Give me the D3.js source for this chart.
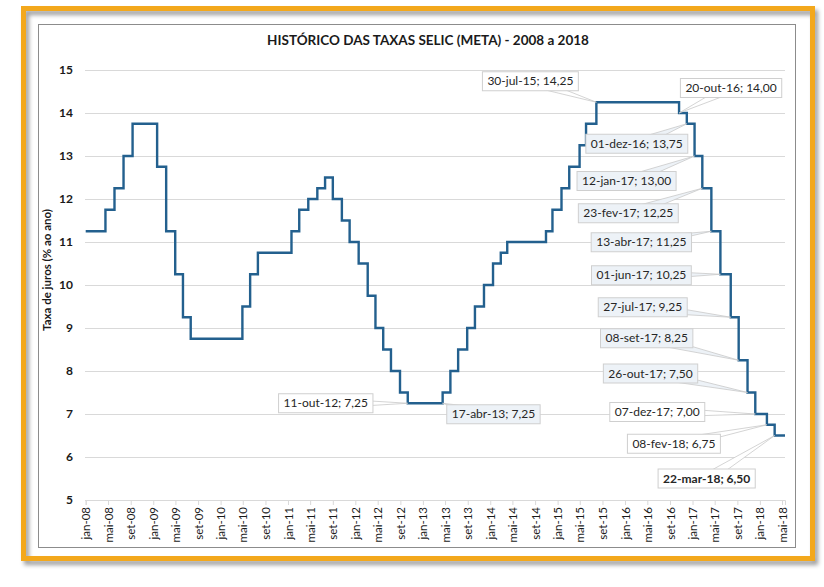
<!DOCTYPE html>
<html><head><meta charset="utf-8">
<script src="https://cdn.jsdelivr.net/npm/d3@7"></script>
<style>
body{margin:0;background:#fff}
svg{display:block}
text{font-family:Lato,'Liberation Sans',sans-serif}
</style>
</head><body>
<svg id="c" width="824" height="587"></svg>
<script>
// ---------- DATA ----------
const changeDates = [
  "2008-01-01","2008-04-17","2008-06-05","2008-07-24","2008-09-11",
  "2009-01-22","2009-03-12","2009-04-30","2009-06-11","2009-07-23",
  "2010-04-29","2010-06-10","2010-07-22",
  "2011-01-20","2011-03-03","2011-04-21","2011-06-09","2011-07-21","2011-09-01","2011-10-20","2011-12-01",
  "2012-01-19","2012-03-08","2012-04-19","2012-05-31","2012-07-12","2012-08-30","2012-10-11",
  "2013-04-18","2013-05-30","2013-07-11","2013-08-29","2013-10-10","2013-11-28",
  "2014-01-16","2014-02-27","2014-04-03","2014-10-30","2014-12-04",
  "2015-01-22","2015-03-05","2015-04-30","2015-06-04","2015-07-30",
  "2016-10-20","2016-12-01",
  "2017-01-12","2017-02-23","2017-04-13","2017-06-01","2017-07-27","2017-09-08","2017-10-26","2017-12-07",
  "2018-02-08","2018-03-22"
];
const selicValues = [
  11.25,11.75,12.25,13.00,13.75,
  12.75,11.25,10.25,9.25,8.75,
  9.50,10.25,10.75,
  11.25,11.75,12.00,12.25,12.50,12.00,11.50,11.00,
  10.50,9.75,9.00,8.50,8.00,7.50,7.25,
  7.50,8.00,8.50,9.00,9.50,10.00,
  10.50,10.75,11.00,11.25,11.75,
  12.25,12.75,13.25,13.75,14.25,
  14.00,13.75,
  13.00,12.25,11.25,10.25,9.25,8.25,7.50,7.00,
  6.75,6.50
];
const seriesEnd = "2018-05-17";
const yTicks = [5,6,7,8,9,10,11,12,13,14,15];
const monthNames = ["jan","fev","mar","abr","mai","jun","jul","ago","set","out","nov","dez"];

const labelTexts = [
  "30-jul-15; 14,25","20-out-16; 14,00","01-dez-16; 13,75","12-jan-17; 13,00",
  "23-fev-17; 12,25","13-abr-17; 11,25","01-jun-17; 10,25","27-jul-17; 9,25",
  "08-set-17; 8,25","26-out-17; 7,50","07-dez-17; 7,00","08-fev-18; 6,75",
  "22-mar-18; 6,50","11-out-12; 7,25","17-abr-13; 7,25"
];
const labelDates = [
  "2015-07-30","2016-10-20","2016-12-01","2017-01-12","2017-02-23","2017-04-13",
  "2017-06-01","2017-07-27","2017-09-08","2017-10-26","2017-12-07","2018-02-08",
  "2018-03-22","2012-10-11","2013-04-17"
];
const labelValues = [14.25,14.00,13.75,13.00,12.25,11.25,10.25,9.25,8.25,7.50,7.00,6.75,6.50,7.25,7.25];

const titleText = "HISTÓRICO DAS TAXAS SELIC (META) - 2008 a 2018";
const yTitle = "Taxa de juros (% ao ano)";

// ---------- LAYOUT (positions / styles) ----------
const labelOffsets = [
  [-66,-21],[52,-25],[-50,20],[-68,25],[-74,25],[-70,11],[-79,1],[-88,-10],
  [-92,-22],[-97,-19],[-98,-2],[-93,19],[-68,43],[-82,0],[51,11]
];
const labelShaded = [false,false,true,true,true,true,true,true,true,true,false,false,false,false,true];
const labelBold = [false,false,false,false,false,false,false,false,false,false,false,false,true,false,false];

const parse = d3.timeParse("%Y-%m-%d");
const svg = d3.select("#c");

const defs = svg.append("defs");
const f = defs.append("filter").attr("id","sh").attr("x","-5%").attr("y","-5%").attr("width","110%").attr("height","115%");
f.append("feDropShadow").attr("dx",3).attr("dy",4).attr("stdDeviation",2.2)
  .attr("flood-color","#000").attr("flood-opacity",0.38);

// orange frame
svg.append("rect").attr("x",23.5).attr("y",8.5).attr("width",789).attr("height",550)
  .attr("fill","none").attr("stroke","#F3A81B").attr("stroke-width",5).attr("filter","url(#sh)");
// chart area border
svg.append("rect").attr("x",38.5).attr("y",24.5).attr("width",757).attr("height",523)
  .attr("fill","#fff").attr("stroke","#8c8c8c").attr("stroke-width",1);

const x = d3.scaleTime().domain([parse("2008-01-01"), parse(seriesEnd)]).range([85.7, 785]);
const y = d3.scaleLinear().domain([5,15]).range([500,70]);

// y axis with gridlines
const yAxis = svg.append("g").attr("transform","translate(85,0)")
  .call(d3.axisLeft(y).tickValues(yTicks).tickSize(-700).tickPadding(12).tickFormat(d3.format("d")));
yAxis.select(".domain").remove();
yAxis.selectAll(".tick line").attr("stroke","#d9d9d9").attr("stroke-width",1);
yAxis.selectAll(".tick text").attr("fill","#1a1a1a").attr("font-size",12).attr("font-weight","bold")
  .style("font-family","Lato,'Liberation Sans',sans-serif");

// x axis
const xTicks = d3.timeMonth.every(4).range(parse("2008-01-01"), parse("2018-05-02"));
const xAxis = svg.append("g").attr("transform","translate(0,500)")
  .call(d3.axisBottom(x).tickValues(xTicks).tickSize(5)
    .tickFormat(d => monthNames[d.getMonth()] + "-" + String(d.getFullYear()).slice(2)));
xAxis.select(".domain").attr("stroke","#d9d9d9");
xAxis.selectAll(".tick line").attr("stroke","#d9d9d9");
xAxis.selectAll(".tick text").attr("fill","#1a1a1a").attr("font-size",11.5)
  .style("font-family","Lato,'Liberation Sans',sans-serif")
  .attr("transform","rotate(-90)").attr("text-anchor","end")
  .attr("x",-7).attr("y",0).attr("dy","0.35em");

// line
const pts = changeDates.map((d,i) => ({date: parse(d), v: selicValues[i]}));
pts.push({date: parse(seriesEnd), v: selicValues[selicValues.length-1]});
const line = d3.line().x(d => x(d.date)).y(d => y(d.v)).curve(d3.curveStepAfter);
svg.append("path").datum(pts).attr("d", line).attr("fill","none")
  .attr("stroke","#23608e").attr("stroke-width",2.4).attr("stroke-linejoin","miter");

// title
svg.append("text").attr("x",428).attr("y",45).attr("text-anchor","middle")
  .attr("font-size",13.5).attr("font-weight","bold").attr("fill","#1a1a1a").text(titleText);
// y title
svg.append("text").attr("transform","translate(51,270) rotate(-90)").attr("text-anchor","middle")
  .attr("font-size",11.5).attr("font-weight","bold").attr("fill","#1a1a1a").text(yTitle);

// callouts
const cg = svg.append("g");
labelTexts.forEach((t,i) => {
  const px = x(parse(labelDates[i])), py = y(labelValues[i]);
  const cx = px + labelOffsets[i][0], cy = py + labelOffsets[i][1];
  const g = cg.append("g");
  const txt = g.append("text").attr("x",cx).attr("y",cy).attr("dy","0.35em")
    .attr("text-anchor","middle").attr("font-size",12)
    .attr("font-weight", labelBold[i] ? "bold" : "normal").attr("fill","#262626").text(t);
  const w = txt.node().getComputedTextLength() + 10, h = 19;
  const fill = labelShaded[i] ? "#edf2f7" : "#ffffff";
  // wedge: from box center toward point
  const dx = px - cx, dy = py - cy;
  const len = Math.hypot(dx,dy) || 1;
  const nx = -dy/len, ny = dx/len;
  const bw = 5;
  const wedge = [[cx + nx*bw, cy + ny*bw],[px,py],[cx - nx*bw, cy - ny*bw]];
  g.insert("path","text").attr("d", d3.line()(wedge) + "Z")
    .attr("fill",fill).attr("stroke","#c9c9c9").attr("stroke-width",0.8);
  g.insert("rect","text").attr("x",cx-w/2).attr("y",cy-h/2).attr("width",w).attr("height",h)
    .attr("fill",fill).attr("stroke","#cfcfcf").attr("stroke-width",1);
});
</script>
</body></html>
